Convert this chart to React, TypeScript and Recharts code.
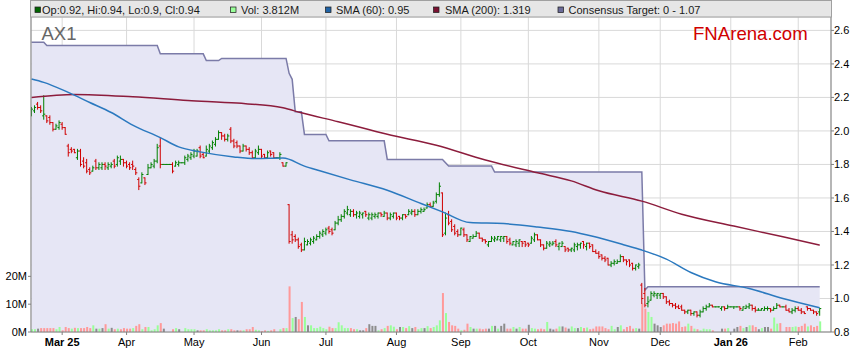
import {
  ComposedChart,
  Bar,
  Line,
  Area,
  XAxis,
  YAxis,
  CartesianGrid,
} from "recharts";

// one row per weekday, 17 Feb 2025 .. 11 Feb 2026 (exchange holidays show flat)
// [open, high, low, close]
const OHLC: [number, number, number, number][] = [
  [2.10, 2.14, 2.09, 2.13], [2.12, 2.15, 2.11, 2.14], [2.16, 2.17, 2.13, 2.14], [2.14, 2.15, 2.11, 2.12], [2.09, 2.21, 2.07, 2.10],
  [2.09, 2.09, 2.05, 2.06], [2.08, 2.09, 2.04, 2.05], [2.05, 2.05, 2.00, 2.01], [2.01, 2.04, 2.01, 2.03], [2.02, 2.06, 2.01, 2.05],
  [2.04, 2.05, 2.01, 2.02], [2.02, 2.02, 1.98, 1.98], [1.91, 1.92, 1.85, 1.87], [1.89, 1.90, 1.87, 1.88], [1.89, 1.89, 1.87, 1.87],
  [1.84, 1.89, 1.83, 1.88], [1.88, 1.89, 1.79, 1.80], [1.82, 1.84, 1.78, 1.79], [1.81, 1.83, 1.75, 1.76], [1.77, 1.78, 1.74, 1.75],
  [1.76, 1.79, 1.76, 1.78], [1.82, 1.83, 1.77, 1.78], [1.78, 1.81, 1.77, 1.80], [1.78, 1.81, 1.77, 1.80], [1.80, 1.81, 1.77, 1.79],
  [1.78, 1.81, 1.77, 1.80], [1.79, 1.81, 1.78, 1.80], [1.82, 1.83, 1.78, 1.79], [1.80, 1.85, 1.79, 1.84], [1.82, 1.85, 1.80, 1.83],
  [1.83, 1.83, 1.79, 1.81], [1.81, 1.82, 1.78, 1.79], [1.80, 1.81, 1.77, 1.78], [1.80, 1.82, 1.77, 1.79], [1.77, 1.78, 1.74, 1.75],
  [1.71, 1.72, 1.65, 1.67], [1.69, 1.75, 1.69, 1.74], [1.72, 1.72, 1.68, 1.69], [1.74, 1.80, 1.74, 1.78], [1.78, 1.81, 1.78, 1.80],
  [1.79, 1.83, 1.78, 1.82], [1.82, 1.92, 1.81, 1.90], [1.91, 1.96, 1.78, 1.80], [1.80, 1.80, 1.80, 1.80], [1.80, 1.80, 1.80, 1.80],
  [1.80, 1.80, 1.80, 1.80], [1.80, 1.81, 1.75, 1.76], [1.79, 1.82, 1.79, 1.81], [1.80, 1.82, 1.79, 1.81], [1.81, 1.81, 1.81, 1.81],
  [1.81, 1.85, 1.80, 1.84], [1.83, 1.86, 1.82, 1.85], [1.84, 1.87, 1.83, 1.86], [1.85, 1.89, 1.84, 1.88], [1.85, 1.89, 1.85, 1.88],
  [1.90, 1.91, 1.84, 1.85], [1.86, 1.87, 1.84, 1.84], [1.85, 1.91, 1.85, 1.89], [1.88, 1.92, 1.87, 1.91], [1.90, 1.94, 1.89, 1.93],
  [1.92, 1.96, 1.91, 1.95], [1.95, 2.00, 1.95, 1.99], [1.99, 1.99, 1.95, 1.97], [1.97, 1.98, 1.94, 1.95], [1.95, 1.98, 1.94, 1.97],
  [2.01, 2.02, 1.93, 1.94], [1.94, 1.95, 1.90, 1.91], [1.93, 1.94, 1.90, 1.91], [1.91, 1.91, 1.87, 1.88], [1.88, 1.92, 1.88, 1.91],
  [1.91, 1.91, 1.88, 1.89], [1.89, 1.90, 1.86, 1.87], [1.87, 1.88, 1.84, 1.84], [1.84, 1.89, 1.84, 1.88], [1.87, 1.91, 1.86, 1.89],
  [1.89, 1.89, 1.84, 1.85], [1.86, 1.86, 1.84, 1.84], [1.84, 1.88, 1.84, 1.87], [1.88, 1.88, 1.85, 1.86], [1.87, 1.87, 1.84, 1.84],
  [1.84, 1.84, 1.84, 1.84], [1.84, 1.87, 1.83, 1.86], [1.81, 1.81, 1.79, 1.79], [1.79, 1.81, 1.79, 1.81], [1.56, 1.56, 1.33, 1.34],
  [1.38, 1.40, 1.33, 1.35], [1.37, 1.38, 1.34, 1.35], [1.35, 1.36, 1.30, 1.31], [1.32, 1.33, 1.28, 1.29], [1.29, 1.36, 1.29, 1.34],
  [1.32, 1.35, 1.32, 1.34], [1.33, 1.36, 1.32, 1.35], [1.34, 1.37, 1.33, 1.36], [1.35, 1.38, 1.35, 1.37], [1.37, 1.40, 1.36, 1.39],
  [1.38, 1.41, 1.37, 1.40], [1.39, 1.42, 1.38, 1.41], [1.42, 1.43, 1.39, 1.40], [1.41, 1.42, 1.38, 1.39], [1.41, 1.46, 1.41, 1.45],
  [1.45, 1.49, 1.44, 1.47], [1.47, 1.50, 1.46, 1.49], [1.49, 1.53, 1.48, 1.52], [1.51, 1.55, 1.50, 1.53], [1.50, 1.53, 1.49, 1.52],
  [1.52, 1.53, 1.49, 1.50], [1.50, 1.52, 1.48, 1.51], [1.49, 1.52, 1.48, 1.51], [1.50, 1.51, 1.48, 1.51], [1.52, 1.52, 1.49, 1.50],
  [1.48, 1.51, 1.47, 1.50], [1.48, 1.51, 1.47, 1.50], [1.49, 1.51, 1.48, 1.50], [1.49, 1.51, 1.48, 1.51], [1.51, 1.51, 1.49, 1.50],
  [1.49, 1.52, 1.49, 1.51], [1.51, 1.51, 1.47, 1.48], [1.48, 1.51, 1.47, 1.50], [1.49, 1.51, 1.48, 1.51], [1.51, 1.51, 1.47, 1.48],
  [1.49, 1.49, 1.47, 1.48], [1.48, 1.50, 1.47, 1.50], [1.50, 1.50, 1.48, 1.49], [1.50, 1.53, 1.50, 1.52], [1.51, 1.53, 1.50, 1.52],
  [1.52, 1.53, 1.49, 1.50], [1.50, 1.53, 1.50, 1.52], [1.52, 1.54, 1.51, 1.53], [1.52, 1.54, 1.52, 1.53], [1.54, 1.57, 1.54, 1.56],
  [1.56, 1.57, 1.55, 1.55], [1.55, 1.58, 1.55, 1.57], [1.58, 1.63, 1.57, 1.62], [1.62, 1.69, 1.61, 1.67], [1.63, 1.63, 1.37, 1.38],
  [1.39, 1.51, 1.38, 1.48], [1.50, 1.52, 1.44, 1.45], [1.46, 1.47, 1.40, 1.41], [1.43, 1.44, 1.38, 1.39], [1.40, 1.41, 1.37, 1.38],
  [1.38, 1.42, 1.38, 1.42], [1.41, 1.42, 1.37, 1.38], [1.38, 1.38, 1.34, 1.35], [1.34, 1.37, 1.34, 1.37], [1.36, 1.38, 1.36, 1.37],
  [1.37, 1.40, 1.37, 1.39], [1.39, 1.39, 1.36, 1.36], [1.36, 1.36, 1.34, 1.35], [1.35, 1.35, 1.33, 1.34], [1.32, 1.34, 1.31, 1.34],
  [1.34, 1.37, 1.34, 1.36], [1.35, 1.37, 1.34, 1.36], [1.35, 1.37, 1.35, 1.37], [1.35, 1.37, 1.34, 1.37], [1.36, 1.37, 1.34, 1.37],
  [1.37, 1.37, 1.33, 1.34], [1.35, 1.36, 1.32, 1.33], [1.32, 1.34, 1.32, 1.34], [1.32, 1.35, 1.31, 1.34], [1.33, 1.35, 1.31, 1.35],
  [1.34, 1.34, 1.31, 1.33], [1.34, 1.34, 1.31, 1.32], [1.33, 1.33, 1.31, 1.32], [1.33, 1.37, 1.33, 1.36], [1.35, 1.39, 1.34, 1.38],
  [1.38, 1.38, 1.35, 1.35], [1.35, 1.35, 1.31, 1.32], [1.32, 1.32, 1.29, 1.30], [1.30, 1.34, 1.30, 1.33], [1.32, 1.34, 1.31, 1.33],
  [1.32, 1.34, 1.32, 1.33], [1.34, 1.35, 1.31, 1.32], [1.31, 1.33, 1.29, 1.33], [1.31, 1.34, 1.31, 1.33], [1.31, 1.31, 1.28, 1.29],
  [1.30, 1.30, 1.28, 1.29], [1.29, 1.30, 1.28, 1.30], [1.29, 1.33, 1.28, 1.32], [1.31, 1.33, 1.29, 1.32], [1.32, 1.33, 1.30, 1.33],
  [1.34, 1.34, 1.30, 1.32], [1.31, 1.33, 1.29, 1.33], [1.33, 1.33, 1.30, 1.31], [1.32, 1.32, 1.28, 1.28], [1.28, 1.29, 1.27, 1.27],
  [1.27, 1.28, 1.24, 1.25], [1.26, 1.26, 1.23, 1.24], [1.24, 1.25, 1.22, 1.23], [1.24, 1.24, 1.20, 1.20], [1.20, 1.22, 1.19, 1.21],
  [1.21, 1.23, 1.20, 1.22], [1.21, 1.23, 1.21, 1.22], [1.22, 1.26, 1.22, 1.25], [1.25, 1.25, 1.22, 1.23], [1.23, 1.23, 1.20, 1.22],
  [1.23, 1.23, 1.19, 1.20], [1.21, 1.21, 1.17, 1.18], [1.18, 1.20, 1.17, 1.20], [1.19, 1.21, 1.18, 1.20], [1.08, 1.09, 0.97, 1.00],
  [1.03, 1.06, 0.95, 0.96], [0.97, 1.01, 0.95, 0.98], [0.99, 1.04, 0.99, 1.03], [1.02, 1.04, 1.01, 1.03], [1.02, 1.03, 1.00, 1.03],
  [1.02, 1.03, 1.00, 1.03], [1.03, 1.03, 1.00, 1.01], [1.01, 1.01, 0.97, 0.98], [0.98, 0.99, 0.96, 0.97], [0.97, 0.97, 0.95, 0.96],
  [0.96, 0.97, 0.94, 0.95], [0.95, 0.96, 0.94, 0.94], [0.95, 0.96, 0.93, 0.93], [0.93, 0.93, 0.91, 0.92], [0.92, 0.93, 0.91, 0.93],
  [0.93, 0.93, 0.90, 0.91], [0.91, 0.92, 0.90, 0.92], [0.92, 0.92, 0.89, 0.90], [0.90, 0.93, 0.89, 0.92], [0.92, 0.95, 0.92, 0.94],
  [0.94, 0.96, 0.93, 0.95], [0.95, 0.97, 0.95, 0.96], [0.96, 0.96, 0.95, 0.95], [0.95, 0.95, 0.95, 0.95], [0.95, 0.95, 0.95, 0.95],
  [0.94, 0.95, 0.93, 0.95], [0.95, 0.95, 0.93, 0.94], [0.94, 0.96, 0.94, 0.95], [0.95, 0.95, 0.95, 0.95], [0.95, 0.95, 0.94, 0.95],
  [0.95, 0.95, 0.95, 0.95], [0.95, 0.95, 0.93, 0.94], [0.93, 0.95, 0.93, 0.95], [0.94, 0.96, 0.94, 0.95], [0.95, 0.97, 0.94, 0.96],
  [0.96, 0.96, 0.93, 0.94], [0.94, 0.95, 0.92, 0.93], [0.93, 0.94, 0.93, 0.93], [0.93, 0.94, 0.93, 0.94], [0.93, 0.95, 0.93, 0.94],
  [0.94, 0.95, 0.93, 0.94], [0.94, 0.94, 0.92, 0.93], [0.93, 0.95, 0.93, 0.94], [0.94, 0.97, 0.94, 0.96], [0.96, 0.96, 0.95, 0.95],
  [0.95, 0.95, 0.95, 0.95], [0.95, 0.96, 0.93, 0.93], [0.93, 0.94, 0.92, 0.92], [0.92, 0.94, 0.91, 0.93], [0.93, 0.95, 0.92, 0.94],
  [0.94, 0.95, 0.93, 0.93], [0.93, 0.94, 0.91, 0.92], [0.92, 0.92, 0.91, 0.91], [0.95, 0.95, 0.93, 0.94], [0.94, 0.94, 0.93, 0.93],
  [0.93, 0.93, 0.91, 0.92], [0.92, 0.92, 0.90, 0.91], [0.92, 0.94, 0.90, 0.94],
];

// daily volume, millions (null = holiday)
const VOLUME_M: (number | null)[] = [
  1.0, 1.0, 1.2, 1.4, 1.4, 1.4, 1.4, 1.4, 1.0, 1.8,
  0.6, 1.8, 1.4, 1.2, 1.5, 1.4, 1.4, 1.4, 1.8, 1.4,
  2.4, 1.2, 1.2, 1.4, 2.8, 1.2, 1.5, 1.0, 1.2, 1.0,
  1.4, 1.2, 1.2, 1.4, 2.2, 2.8, 1.0, 1.8, 1.8, 0.6,
  1.0, 2.4, 3.2, 1.2, null, null, 1.0, 1.4, 1.0, null,
  1.4, 1.0, 1.0, 1.0, 0.6, 0.6, 0.6, 1.0, 0.6, 0.6,
  0.6, 1.0, 0.6, 0.6, 1.0, 1.0, 0.6, 0.6, 0.6, 0.6,
  1.0, 1.0, 1.8, 0.8, 0.6, 0.3, 0.6, 0.4, 0.6, 1.0,
  null, 1.0, 1.4, 1.4, 16.4, 5.0, 5.4, 4.6, 10.8, 5.4,
  2.4, 2.4, 1.4, 1.4, 1.9, 1.4, 1.0, 1.9, 1.4, 1.4,
  3.5, 2.4, 1.4, 1.4, 1.4, 1.0, 1.0, 0.6, 0.6, 1.4,
  2.8, 2.2, 2.2, 0.6, 1.0, 1.4, 2.2, 2.4, 1.9, 1.0,
  1.8, 1.8, 1.4, 2.1, 1.4, 1.8, 1.0, 1.4, 1.4, 2.1,
  1.4, 1.8, 2.4, 4.2, 14.0, 6.8, 3.6, 2.4, 2.2, 1.2,
  0.6, 0.8, 3.0, 1.8, 1.2, 1.2, 1.2, 1.0, 1.2, 1.2,
  2.2, 2.2, 1.2, 2.2, 3.0, 1.2, 1.2, 1.8, 1.2, 1.8,
  1.2, 1.2, 2.6, 1.4, 1.2, 1.0, 1.2, 1.0, 3.6, 1.2,
  0.9, 1.2, 2.0, 2.0, 1.6, 1.2, 2.0, 1.4, 1.4, 1.8,
  1.4, 1.6, 1.0, 1.2, 2.0, 2.0, 2.0, 1.4, 1.0, 2.2,
  1.0, 1.8, 2.4, 1.0, 1.8, 2.2, 1.2, 1.4, 1.2, 10.2,
  8.4, 7.2, 5.4, 3.0, 2.4, 1.8, 2.4, 3.0, 3.0, 3.2,
  3.0, 3.8, 1.8, 2.0, 3.0, 2.2, 1.2, 1.0, 0.6, 1.2,
  1.0, 1.0, 0.6, null, null, 1.2, 1.2, 1.4, null, 1.2,
  1.8, 2.2, 1.4, 1.8, 2.4, 2.4, 1.8, 1.0, 1.4, 1.8,
  1.8, 1.2, 5.2, 3.0, 3.2, null, 1.8, 1.8, 1.8, 2.0,
  1.8, 2.2, 3.0, 2.0, 2.4, 1.8, 2.2, 3.812,
];

// [row index, value]
const SMA60_PTS: [number, number][] = [
  [0, 2.31], [4, 2.29], [12, 2.23], [19, 2.17], [26, 2.11], [33, 2.035], [42, 1.96],
  [48, 1.905], [55, 1.875], [66, 1.845], [73, 1.835], [82, 1.838], [89, 1.79],
  [94, 1.762], [104, 1.708], [116, 1.646], [127, 1.567], [134, 1.517], [143, 1.453],
  [154, 1.447], [165, 1.427], [176, 1.4], [183, 1.371], [193, 1.321], [199, 1.289],
  [207, 1.235], [215, 1.155], [223, 1.1], [234, 1.06], [245, 1.0], [257, 0.945],
];

const SMA200_PTS: [number, number][] = [
  [0, 2.2], [14, 2.218], [33, 2.204], [51, 2.182], [67, 2.166], [82, 2.138], [88, 2.108],
  [100, 2.055], [116, 1.98], [132, 1.915], [148, 1.826], [165, 1.75], [176, 1.702],
  [185, 1.643], [199, 1.581], [212, 1.503], [229, 1.432], [245, 1.368], [257, 1.318],
];

const TARGET_PTS: [number, number][] = [
  [0, 2.53], [4, 2.53], [5, 2.51], [41, 2.51], [42, 2.46], [56, 2.46], [57, 2.42],
  [61, 2.42], [62, 2.433], [83, 2.433], [84, 2.344], [85, 2.308], [86, 2.114],
  [88, 2.114], [89, 1.979], [96, 1.979], [97, 1.941], [115, 1.941], [116, 1.83],
  [134, 1.83], [136, 1.79], [150, 1.79], [151, 1.755], [199, 1.755], [200, 1.05],
  [201, 1.07], [257, 1.07],
];

const MONTH_TICKS = [10, 31, 53, 75, 96, 119, 140, 162, 185, 205, 228, 250];
const MONTH_LABELS = ["Mar 25", "Apr", "May", "Jun", "Jul", "Aug", "Sep", "Oct", "Nov", "Dec", "Jan 26", "Feb"];
const PRICE_TICKS = [0.8, 1.0, 1.2, 1.4, 1.6, 1.8, 2.0, 2.2, 2.4, 2.6];
const VOL_TICKS = [0, 10, 20];

const LEGEND = [
  { sq: 35, tx: 42, color: "#006400", text: "Op:0.92, Hi:0.94, Lo:0.9, Cl:0.94" },
  { sq: 230.5, tx: 241, color: "#99FF99", text: "Vol: 3.812M" },
  { sq: 325.5, tx: 336, color: "#1F63A6", text: "SMA (60): 0.95" },
  { sq: 433.5, tx: 445, color: "#7A1232", text: "SMA (200): 1.319" },
  { sq: 558, tx: 568.5, color: "#6B6B99", text: "Consensus Target: 0 - 1.07" },
];

const X_DOMAIN = [-0.16, 260.68];

type Row = {
  i: number;
  o: number;
  h: number;
  l: number;
  c: number;
  hl: [number, number];
  vol: number | null;
  dir: number;
  sma60: number | null;
  sma200: number | null;
  target: number | null;
};

const rows: Row[] = OHLC.map(([o, h, l, c], i) => {
  const prev = i > 0 ? OHLC[i - 1][3] : o;
  return {
    i,
    o,
    h,
    l,
    c,
    hl: [l, h],
    vol: VOLUME_M[i] ?? null,
    dir: c > prev + 1e-9 ? 1 : c < prev - 1e-9 ? -1 : 0,
    sma60: null,
    sma200: null,
    target: null,
  };
});
SMA60_PTS.forEach(([i, v]) => (rows[i].sma60 = v));
SMA200_PTS.forEach(([i, v]) => (rows[i].sma200 = v));
TARGET_PTS.forEach(([i, v]) => (rows[i].target = v));

function OhlcBar(props: any) {
  const { x, y, width, height, payload } = props;
  if (!payload || x == null || y == null) return null;
  const { o, h, l, c } = payload as Row;
  const top = Math.min(y, y + (height || 0));
  const span = Math.abs(height || 0);
  const at = (v: number) => (h > l ? top + ((h - v) / (h - l)) * span : top);
  const mid = x + width / 2;
  const col = c >= o ? "#008000" : "#D00000";
  return (
    <g stroke={col} strokeWidth={1}>
      <line x1={mid} x2={mid} y1={top - 0.5} y2={top + span + 0.5} />
      <line x1={mid - 1.6} x2={mid} y1={at(o)} y2={at(o)} />
      <line x1={mid} x2={mid + 1.6} y1={at(c)} y2={at(c)} />
    </g>
  );
}

function VolBar(props: any) {
  const { x, y, width, height, payload } = props;
  if (!payload || !height) return null;
  const fill = payload.dir > 0 ? "#99FF99" : payload.dir < 0 ? "#FF9999" : "#8C8C8C";
  return <rect x={x} y={y} width={width} height={height} fill={fill} />;
}

function MonthTick(props: any) {
  const { x, y, payload } = props;
  const label = MONTH_LABELS[MONTH_TICKS.indexOf(payload.value)] ?? "";
  return (
    <text
      x={x}
      y={y}
      dy={8.5}
      textAnchor="middle"
      fontSize={11}
      fontWeight={label.includes(" ") ? 700 : 400}
      fill="#000"
    >
      {label}
    </text>
  );
}

export default function App() {
  return (
    <div
      style={{
        position: "absolute",
        left: 0,
        top: 0,
        width: 859,
        height: 363,
        background: "#fff",
        fontFamily: "'Liberation Sans', Arial, sans-serif",
      }}
    >
      <ComposedChart
        width={859}
        height={363}
        data={rows}
        margin={{ top: 17, right: 0, bottom: 0, left: 0 }}
      >
        <CartesianGrid xAxisId="main" yAxisId="price" stroke="#D9D9D9" />
        <XAxis
          xAxisId="main"
          dataKey="i"
          type="number"
          domain={X_DOMAIN}
          allowDataOverflow
          ticks={MONTH_TICKS}
          tick={<MonthTick />}
          tickSize={3}
          tickMargin={2}
          height={31}
          stroke="#808080"
          interval={0}
        />
        <XAxis xAxisId="vol" dataKey="i" type="number" domain={X_DOMAIN} allowDataOverflow hide />
        <YAxis
          yAxisId="vol"
          orientation="left"
          width={31}
          domain={[0, 113.2]}
          allowDataOverflow
          ticks={VOL_TICKS}
          tickFormatter={(v: number) => `${v}M`}
          tick={{ fontSize: 11, fill: "#000" }}
          tickSize={3}
          tickMargin={1}
          stroke="#808080"
          interval={0}
        />
        <YAxis
          yAxisId="price"
          orientation="right"
          width={28}
          domain={[0.8, 2.68]}
          allowDataOverflow
          ticks={PRICE_TICKS}
          tickFormatter={(v: number) => v.toFixed(1)}
          tick={{ fontSize: 11, fill: "#000" }}
          tickSize={3}
          tickMargin={0}
          stroke="#808080"
          interval={0}
        />
        <Area
          xAxisId="main"
          yAxisId="price"
          dataKey="target"
          type="linear"
          stroke="#7B7BA8"
          strokeWidth={1.5}
          fill="#E6E6F5"
          fillOpacity={1}
          connectNulls
          dot={false}
          activeDot={false}
          isAnimationActive={false}
        />
        <Bar
          xAxisId="vol"
          yAxisId="vol"
          dataKey="vol"
          barSize={2}
          shape={<VolBar />}
          isAnimationActive={false}
        />
        <Bar
          xAxisId="main"
          yAxisId="price"
          dataKey="hl"
          barSize={3}
          shape={<OhlcBar />}
          isAnimationActive={false}
        />
        <Line
          xAxisId="main"
          yAxisId="price"
          dataKey="sma200"
          type="monotone"
          stroke="#8C1C3C"
          strokeWidth={1.5}
          dot={false}
          activeDot={false}
          connectNulls
          isAnimationActive={false}
        />
        <Line
          xAxisId="main"
          yAxisId="price"
          dataKey="sma60"
          type="monotone"
          stroke="#2B79BF"
          strokeWidth={1.5}
          dot={false}
          activeDot={false}
          connectNulls
          isAnimationActive={false}
        />
      </ComposedChart>
      <svg
        width={859}
        height={363}
        style={{ position: "absolute", left: 0, top: 0, pointerEvents: "none" }}
      >
        <rect x={30.5} y={0.5} width={801} height={16.5} fill="#E6E6E6" stroke="#A0A0A0" strokeWidth={1} />
        {LEGEND.map((it) => (
          <g key={it.text}>
            <rect x={it.sq} y={7} width={5.5} height={5.5} fill={it.color} stroke="#222" strokeWidth={0.75} />
            <text x={it.tx} y={13.5} fontSize={11} fill="#1A1A1A">
              {it.text}
            </text>
          </g>
        ))}
        <text x={41.5} y={39.5} fontSize={18.5} fill="#666">
          AX1
        </text>
        <text x={693} y={39.5} fontSize={18.6} fill="#D00000">
          FNArena.com
        </text>
      </svg>
    </div>
  );
}
